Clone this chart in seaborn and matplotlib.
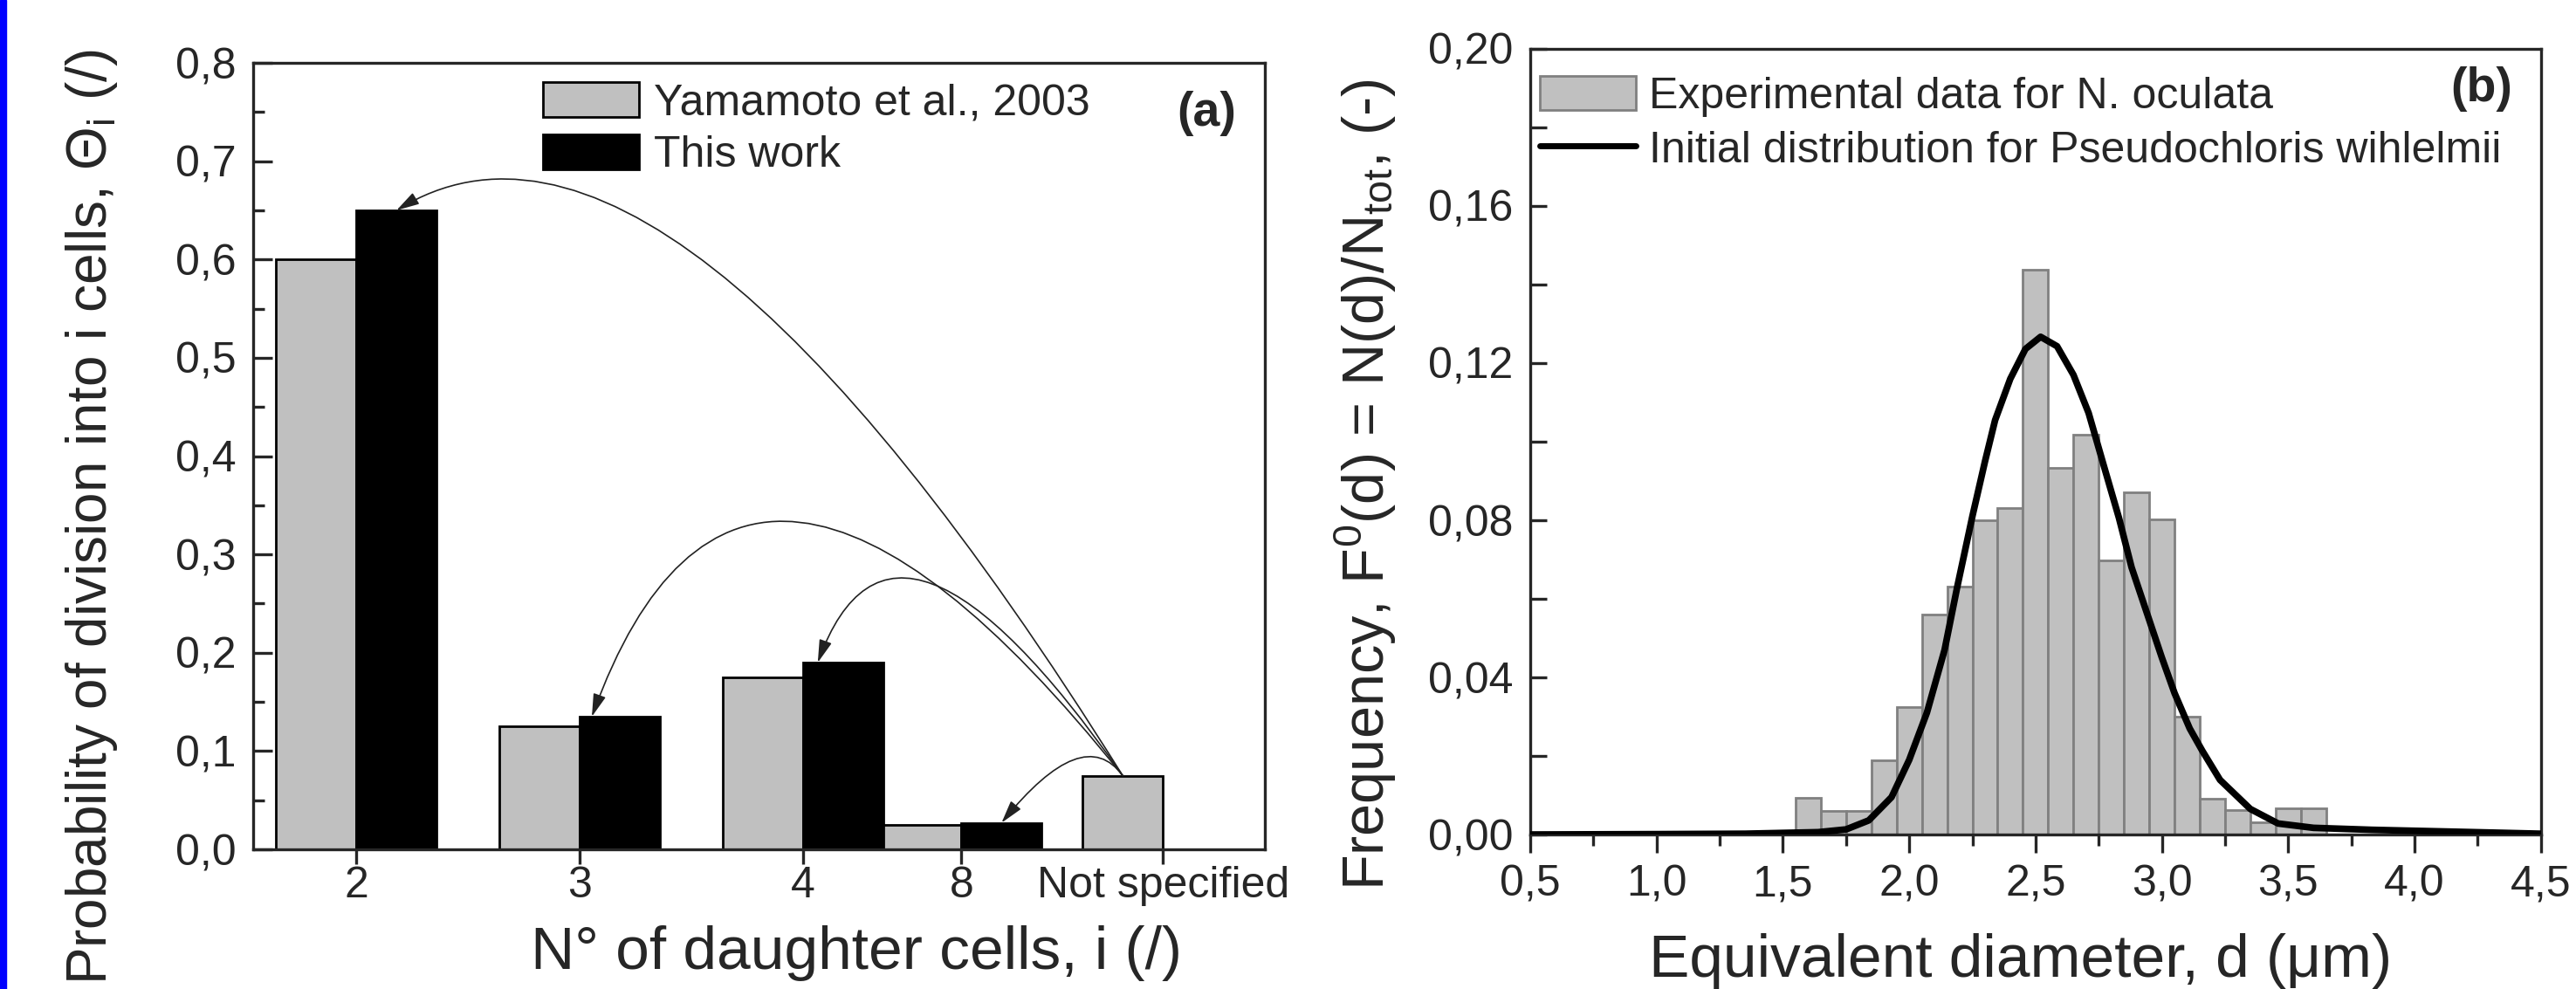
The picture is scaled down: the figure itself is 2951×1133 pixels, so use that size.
import matplotlib
matplotlib.use("Agg")
import matplotlib.pyplot as plt
import seaborn as sns
from matplotlib.patches import Patch, Rectangle
from matplotlib.lines import Line2D
from matplotlib.ticker import MultipleLocator, FuncFormatter

# =====================================================
# DATA
# =====================================================

categories = ["2", "3", "4", "8", "Not specified"]
yamamoto = [0.600, 0.125, 0.175, 0.025, 0.075]
this_work = [0.650, 0.135, 0.190, 0.027]

# histogram of measured diameters (bin centres, um) and frequencies
bin_centres = [1.6, 1.7, 1.8, 1.9, 2.0, 2.1, 2.2, 2.3, 2.4, 2.5, 2.6,
               2.7, 2.8, 2.9, 3.0, 3.1, 3.2, 3.3, 3.4, 3.5, 3.6]
freq = [0.0094, 0.0059, 0.0059, 0.0188, 0.0325, 0.0559, 0.0631, 0.0799,
        0.0832, 0.1438, 0.0934, 0.1018, 0.0698, 0.0872, 0.0803, 0.0300,
        0.0091, 0.0062, 0.0032, 0.0067, 0.0067]

# initial distribution curve
curve_d = [0.50, 1.00, 1.35, 1.64, 1.75, 1.84, 1.93, 2.00, 2.07, 2.14, 2.19,
           2.25, 2.30, 2.34, 2.40, 2.46, 2.52, 2.585, 2.65, 2.71, 2.77, 2.83,
           2.88, 2.94, 3.00, 3.05, 3.11, 3.16, 3.23, 3.35, 3.46, 3.60, 3.83,
           4.17, 4.50]
curve_f = [0.0000, 0.0001, 0.0002, 0.0006, 0.0013, 0.0036, 0.0095, 0.0190,
           0.0310, 0.0470, 0.0630, 0.0810, 0.0950, 0.1055, 0.1160, 0.1236,
           0.1267, 0.1243, 0.1170, 0.1073, 0.0939, 0.0806, 0.0680, 0.0565,
           0.0450, 0.0360, 0.0270, 0.0213, 0.0139, 0.0065, 0.0028, 0.0017,
           0.0012, 0.0007, 0.0002]

# =====================================================
# LAYOUT / STYLE
# =====================================================

cat_pos = [1.0, 2.0, 3.0, 3.707, 4.609]   # uneven spacing as in the original
bar_w = 0.36
# arrows from "Not specified" to each bar of this work: (tip offset, angleA, angleB)
arcs = [(0.50, 122, 31.5), (0.15, 128.6, 70.1), (0.18, 125, 70), (0.50, 126, 51)]

GREY = "#c0c0c0"

sns.set_style("ticks")
plt.rcParams["font.family"] = ["Liberation Sans", "DejaVu Sans"]
plt.rcParams["mathtext.fontset"] = "custom"
plt.rcParams["mathtext.rm"] = "Liberation Sans"
plt.rcParams["mathtext.it"] = "Liberation Sans:italic"
plt.rcParams["axes.linewidth"] = 2.4

fig = plt.figure(figsize=(29.51, 11.33), dpi=100)
fig.add_artist(Rectangle((0, 0), 7 / 2951, 1, transform=fig.transFigure,
                         color="#0000ff", zorder=0))

ax1 = fig.add_axes([0.0983, 0.1412, 0.3928, 0.7952])
ax2 = fig.add_axes([0.594, 0.1562, 0.3924, 0.7944])

comma1 = FuncFormatter(lambda v, p: f"{v:.1f}".replace(".", ","))
comma2 = FuncFormatter(lambda v, p: f"{v:.2f}".replace(".", ","))

# =====================================================
# (a) DAUGHTER CELLS
# =====================================================

ax1.bar(cat_pos, yamamoto, width=-bar_w, align="edge", color=GREY,
        edgecolor="black", linewidth=2, label="Yamamoto et al., 2003", zorder=2)
ax1.bar(cat_pos[:4], this_work, width=bar_w, align="edge", color="black",
        edgecolor="black", linewidth=2, label="This work", zorder=2)

start = (cat_pos[4] - bar_w / 2, yamamoto[4])
for i, (off, a_a, a_b) in enumerate(arcs):
    tip = (cat_pos[i] + off * bar_w, this_work[i])
    ax1.annotate("", xy=tip, xytext=start,
                 arrowprops=dict(arrowstyle="-|>,head_length=1.6,head_width=0.45",
                                 connectionstyle=f"angle3,angleA={a_a},angleB={a_b}",
                                 color="#222222", lw=1.2, shrinkA=0, shrinkB=0,
                                 mutation_scale=10), zorder=3)

ax1.set_xlim(0.539, 5.066)
ax1.set_ylim(0, 0.8)
ax1.set_xticks(cat_pos)
ax1.set_xticklabels(categories)
ax1.yaxis.set_major_locator(MultipleLocator(0.1))
ax1.yaxis.set_minor_locator(MultipleLocator(0.05))
ax1.yaxis.set_major_formatter(comma1)
ax1.tick_params(axis="y", which="major", direction="in", length=16, width=2.4,
                labelsize=36, pad=14)
ax1.tick_params(axis="y", which="minor", direction="in", length=9, width=2.4)
ax1.tick_params(axis="x", direction="out", length=12, width=2.4, labelsize=36, pad=2)
ax1.set_xlabel("N° of daughter cells, i (/)", fontsize=50)
ax1.set_ylabel("Probability of division into i cells, Θ$_\\mathrm{i}$ (/)", fontsize=46)
ax1.xaxis.set_label_coords(0.596, -0.096)
ax1.yaxis.set_label_coords(-0.132, 0.423)

ax1.legend(loc="upper left", bbox_to_anchor=(0.286, 0.976), frameon=False,
           fontsize=36, handlelength=2.2, handleheight=0.86, handletextpad=0.35,
           labelspacing=0.25, borderpad=0, borderaxespad=0)
ax1.text(0.942, 0.936, "(a)", transform=ax1.transAxes, fontsize=40,
         fontweight="bold", ha="center", va="center")

# =====================================================
# (b) SIZE DISTRIBUTION
# =====================================================

sns.histplot(x=bin_centres, weights=freq, bins=len(bin_centres),
             binrange=(1.55, 3.65), color=GREY, edgecolor="#808080",
             linewidth=2, alpha=1, ax=ax2, zorder=2)
sns.lineplot(x=curve_d, y=curve_f, color="black", linewidth=5.5, ax=ax2, zorder=3)

ax2.set_xlim(0.5, 4.5)
ax2.set_ylim(0, 0.2)
ax2.xaxis.set_major_locator(MultipleLocator(0.5))
ax2.xaxis.set_minor_locator(MultipleLocator(0.25))
ax2.yaxis.set_major_locator(MultipleLocator(0.04))
ax2.yaxis.set_minor_locator(MultipleLocator(0.02))
ax2.xaxis.set_major_formatter(comma1)
ax2.yaxis.set_major_formatter(comma2)
ax2.tick_params(axis="y", which="both", direction="in", length=14, width=2.4,
                labelsize=36, pad=14)
ax2.tick_params(axis="x", which="major", direction="out", length=15, width=2.4,
                labelsize=36, pad=10)
ax2.tick_params(axis="x", which="minor", direction="out", length=9, width=2.4)
ax2.set_xlabel("Equivalent diameter, d (μm)", fontsize=50)
ax2.set_ylabel("Frequency, F$^\\mathrm{0}$(d) = N(d)/N$_\\mathrm{tot}$, (-)", fontsize=48)
ax2.xaxis.set_label_coords(0.485, -0.125)
ax2.yaxis.set_label_coords(-0.130, 0.446)

handles = [Patch(facecolor=GREY, edgecolor="#808080", linewidth=2),
           Line2D([], [], color="black", linewidth=5)]
ax2.legend(handles, ["Experimental data for N. oculata",
                     "Initial distribution for Pseudochloris wihlelmii"],
           loc="upper left", bbox_to_anchor=(0.010, 0.966), frameon=False,
           fontsize=36, handlelength=2.2, handleheight=0.84, handletextpad=0.3,
           labelspacing=0.3, borderpad=0, borderaxespad=0)
ax2.text(0.941, 0.949, "(b)", transform=ax2.transAxes, fontsize=40,
         fontweight="bold", ha="center", va="center")

for ax in (ax1, ax2):
    for s in ax.spines.values():
        s.set_visible(True)
        s.set_linewidth(2.4)

fig.savefig("out.png", dpi=100)
